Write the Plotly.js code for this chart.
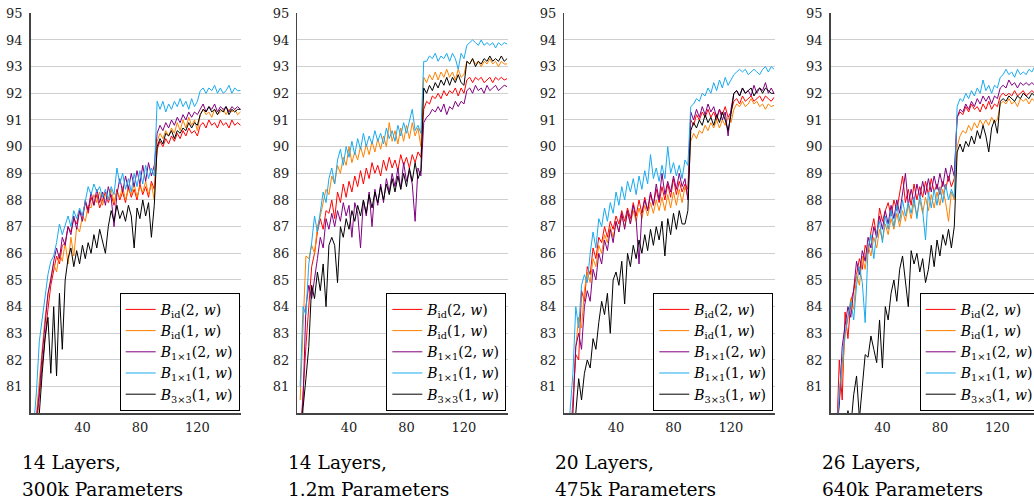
<!DOCTYPE html>
<html>
<head>
<meta charset="utf-8">
<script src="https://cdn.plot.ly/plotly-3.0.1.min.js"></script>
<style>
html,body{margin:0;padding:0;background:#fff;overflow:hidden;}
#chart{width:1060px;height:500px;}
</style>
</head>
<body>
<div id="chart"></div>
<script>
// ---------- data ----------
const epochs = [6,8,10,12,14,16,18,20,22,24, 26,28,30,32,34,36,38,40,42,44,
  46,48,50,52,54,56,58,60,62,64, 66,68,70,72,74,76,78,80,82,84, 86,88,90,
  92,94,96,98,100,102,104,106,108,110,112,114,116,118,120,
  122,124,126,128,130,132,134,136,138,140,142,144,146,148,150];

const seriesNames = [
  '<i>B</i><sub>id</sub>(2, <i>w</i>)',
  '<i>B</i><sub>id</sub>(1, <i>w</i>)',
  '<i>B</i><sub>1×1</sub>(2, <i>w</i>)',
  '<i>B</i><sub>1×1</sub>(1, <i>w</i>)',
  '<i>B</i><sub>3×3</sub>(1, <i>w</i>)'
];

const captionLine1 = ['14 Layers,', '14 Layers,', '20 Layers,', '26 Layers,'];
const captionLine2 = ['300k Parameters', '1.2m Parameters', '475k Parameters', '640k Parameters'];

const yTicks = [81,82,83,84,85,86,87,88,89,90,91,92,93,94,95];
const xTicks = [40,80,120];

// Panel 1: 14 layers, 300k
const p1_id2 = [78.5,79.5,80.6,81.8,82.9,83.9,84.8,85.3,85.9,85.6,
  86.3,86.4,87.0,86.8,87.3,87.1,87.6,87.4,87.9,87.5,
  88.1,87.8,88.2,87.7,88.0,88.3,87.9,88.2,87.8,88.4,
  88.0,88.3,87.9,88.5,88.1,88.4,88.0,88.6,88.2,88.5,
  88.1,88.7,88.4,
  89.9,90.2,90.0,90.3,90.1,90.4,90.2,90.5,90.3,90.6,90.4,90.7,90.5,90.6,90.4,
  90.8,90.9,90.7,91.0,90.8,90.9,90.7,91.0,90.8,90.9,90.7,91.0,90.8,90.9,90.8];
const p1_id1 = [78.8,80.0,81.2,82.5,83.6,84.4,85.1,85.6,85.3,86.0,
  85.7,86.4,85.6,86.6,85.9,87.0,86.8,87.4,87.2,87.8,
  87.7,88.2,87.9,88.3,87.8,88.2,88.0,88.4,87.9,88.3,
  88.1,88.5,88.0,88.4,88.2,88.6,88.1,88.5,88.3,88.7,
  88.2,88.6,88.0,
  90.2,90.5,90.3,90.6,90.4,90.7,90.5,90.9,90.6,91.0,90.7,91.1,90.8,91.0,90.6,
  91.2,91.4,91.2,91.3,91.1,91.4,91.2,91.3,91.4,91.2,91.4,91.3,91.4,91.2,91.3];
const p1_c2 = [78.8,79.8,80.8,82.2,83.4,84.5,85.0,85.7,86.2,85.8,
  86.6,86.3,87.0,86.7,87.4,86.9,87.6,87.2,88.0,87.6,
  88.3,87.8,88.4,87.9,88.3,87.8,88.5,88.1,87.0,88.2,
  88.8,88.3,88.9,88.4,89.0,88.5,89.1,88.6,89.3,88.7,
  89.4,88.9,89.3,
  90.5,90.8,90.6,90.9,90.7,91.0,90.8,91.1,90.9,91.2,91.0,91.3,91.1,91.3,91.2,
  91.4,91.6,91.3,91.5,91.4,91.6,91.3,91.5,91.4,91.5,91.3,91.5,91.4,91.5,91.4];
const p1_c1 = [79.5,80.8,82.7,83.6,84.3,85.2,85.7,85.9,86.4,87.1,
  86.7,87.1,87.4,87.0,87.6,87.3,87.7,87.4,88.0,88.5,
  88.2,88.6,88.3,88.5,88.1,88.4,88.0,88.5,88.2,89.2,
  88.6,89.0,88.4,88.8,88.3,89.0,88.5,89.1,88.6,89.3,
  88.8,89.2,88.9,
  91.7,91.4,91.7,91.3,91.6,91.4,91.7,91.5,91.8,91.5,91.7,91.4,91.8,91.5,91.7,
  92.1,92.2,92.0,92.2,92.1,92.3,92.0,92.2,92.0,92.1,92.3,92.0,92.2,92.1,92.1];
const p1_c3 = [78.0,79.0,80.0,81.5,82.8,83.6,81.5,84.0,81.4,84.5,
  82.4,85.0,85.8,86.2,85.5,86.1,85.6,86.3,85.8,86.4,
  86.0,86.7,86.2,86.9,86.5,86.0,87.0,87.6,87.2,87.8,
  87.3,87.6,87.2,87.8,87.4,86.2,87.7,87.3,88.0,87.4,
  87.9,86.6,87.8,
  90.0,90.3,90.1,90.5,90.4,90.6,90.3,90.6,90.5,90.7,90.6,90.9,90.7,90.9,90.8,
  91.2,91.4,91.3,91.5,91.3,91.4,91.2,91.4,91.3,91.5,91.2,91.4,91.3,91.4,91.4];

// Panel 2: 14 layers, 1.2m
const p2_id2 = [79.0,81.0,82.5,84.0,85.5,86.0,86.8,87.3,86.9,87.6,
  87.5,88.0,87.3,88.3,87.9,88.6,88.1,88.7,88.3,88.9,
  88.5,89.1,88.6,89.2,88.8,89.4,89.0,89.3,88.9,89.5,
  89.1,89.6,89.2,89.5,89.1,89.7,89.3,89.6,89.2,89.7,
  89.4,89.8,89.6,
  91.4,91.7,91.6,91.9,91.8,92.0,91.8,92.1,91.9,92.1,92.0,92.2,91.9,92.2,92.0,
  92.5,92.6,92.4,92.6,92.5,92.6,92.4,92.5,92.6,92.4,92.6,92.5,92.6,92.5,92.55];
const p2_id1 = [80.5,83.0,85.9,85.8,86.3,86.0,87.0,87.4,87.9,88.4,
  88.2,88.9,88.6,89.3,89.0,89.6,89.3,90.0,89.4,89.8,
  89.5,90.0,89.6,90.1,89.7,90.2,89.8,90.3,89.9,90.4,
  90.0,90.9,90.2,90.6,90.1,90.7,90.2,90.8,90.3,90.9,
  90.4,90.7,90.0,
  92.6,92.4,92.7,92.5,92.8,92.5,92.8,92.6,92.9,92.6,92.8,92.5,92.9,92.6,92.7,
  93.2,93.1,93.3,93.1,93.2,93.0,93.2,93.1,93.3,93.1,93.2,93.0,93.2,93.1,93.1];
const p2_c2 = [79.0,80.5,84.0,84.8,84.3,85.0,85.8,86.6,86.2,87.3,
  86.9,87.5,87.0,87.6,87.2,87.9,87.4,87.8,86.6,87.9,
  87.5,86.2,88.0,87.4,88.3,87.0,88.4,87.8,88.6,87.9,
  88.8,88.3,89.0,88.5,89.2,88.4,89.4,88.7,89.1,88.6,
  87.2,89.2,88.9,
  90.9,91.1,91.2,91.4,91.3,91.5,91.3,91.6,91.2,91.5,91.4,91.7,91.5,91.7,91.6,
  92.1,92.2,92.0,92.3,92.1,92.2,92.0,92.3,92.1,92.2,92.3,92.1,92.2,92.3,92.25];
const p2_c1 = [81.0,84.0,83.7,85.6,86.4,87.4,86.8,87.6,88.3,87.9,
  88.8,89.2,88.6,89.5,89.9,89.3,90.0,89.6,90.2,89.7,
  90.3,89.9,90.5,90.0,90.4,90.1,90.6,90.2,90.5,90.1,
  90.7,90.3,90.6,90.2,90.8,90.4,90.9,90.5,91.0,91.4,
  90.6,90.8,90.5,
  93.2,93.2,93.4,93.3,93.5,93.2,93.4,93.3,93.5,93.2,93.5,93.3,92.9,93.5,93.3,
  93.8,93.9,94.0,93.9,93.8,94.0,93.8,93.9,93.8,93.9,93.7,93.9,93.8,93.9,93.85];
const p2_c3 = [78.5,80.2,81.3,82.5,84.8,84.3,85.3,84.6,85.6,84.0,
  86.3,86.6,86.3,84.9,87.0,86.6,87.3,86.9,87.6,87.2,
  87.8,87.4,88.0,87.5,88.2,87.7,88.3,87.9,88.5,88.0,
  88.6,88.2,88.8,88.3,88.9,88.4,89.0,88.5,89.2,88.7,
  89.4,88.8,89.1,
  92.2,92.0,92.3,92.1,92.4,92.2,92.5,92.3,92.6,92.3,92.6,92.4,92.7,92.4,92.3,
  93.2,93.1,93.3,93.0,93.2,93.1,93.3,93.2,93.4,93.2,93.3,93.2,93.4,93.2,93.3];

// Panel 3: 20 layers, 475k
const p3_id2 = [77.5,78.8,80.5,82.2,82.0,84.6,84.2,85.5,85.2,86.2,
  85.8,86.6,86.4,87.0,86.6,87.2,86.9,87.4,87.1,87.6,
  87.2,87.7,87.3,87.9,87.4,88.0,87.5,88.1,87.6,88.2,
  87.8,88.4,87.9,88.5,88.0,88.6,88.1,88.8,88.2,88.7,
  88.3,88.6,88.4,
  91.0,90.8,91.2,91.0,91.3,91.1,91.4,91.1,91.3,91.0,91.4,91.2,91.5,91.1,91.3,
  91.7,91.8,91.6,91.9,91.7,91.8,91.9,91.7,91.8,91.9,91.7,91.9,91.8,91.7,91.85];
const p3_id1 = [77.0,78.5,80.2,82.5,83.6,83.2,84.6,85.3,84.9,85.8,
  85.5,86.3,86.0,86.7,86.4,87.0,86.6,87.2,86.8,87.4,
  87.0,87.5,87.1,87.6,87.2,87.7,87.3,87.8,87.4,87.9,
  87.5,88.0,87.6,88.1,87.6,88.2,87.7,88.3,87.8,88.4,
  87.9,88.5,88.1,
  90.2,90.5,90.3,90.6,90.5,90.8,90.6,90.9,90.7,91.0,90.7,91.0,90.8,91.1,90.9,
  91.4,91.6,91.5,91.7,91.5,91.6,91.8,91.6,91.7,91.5,91.6,91.4,91.6,91.5,91.55];
const p3_c2 = [76.5,78.0,80.0,82.5,83.0,82.4,84.0,84.6,84.2,85.4,
  85.0,86.0,85.6,86.5,86.1,86.9,86.4,87.2,86.8,87.5,
  86.9,87.6,87.1,87.8,87.3,85.6,87.5,88.0,87.6,88.3,
  87.8,88.6,88.0,89.0,88.2,88.7,88.3,88.9,88.4,89.0,
  88.5,88.8,88.0,
  91.3,91.0,91.4,91.1,91.5,91.2,91.6,91.3,91.5,91.1,91.4,91.0,91.3,90.4,91.4,
  92.0,92.1,91.9,92.2,92.0,92.1,91.9,92.3,92.0,92.2,92.1,92.4,92.0,92.2,92.0];
const p3_c1 = [78.0,80.1,81.5,84.0,83.2,84.8,85.2,84.9,86.0,86.8,
  86.2,87.3,87.0,87.7,87.2,87.9,87.5,88.3,87.8,88.5,
  88.0,88.7,88.3,88.8,88.2,88.9,88.4,89.1,88.6,89.7,
  88.8,89.2,88.7,89.3,88.8,90.0,89.0,89.4,88.9,89.3,
  88.8,89.5,89.3,
  91.5,91.6,91.8,91.7,92.0,91.9,92.2,92.0,92.4,92.1,92.5,92.2,92.6,92.3,92.5,
  92.7,92.8,92.9,92.8,92.9,92.7,92.8,92.9,92.8,92.7,92.9,93.0,92.8,93.0,92.9];
const p3_c3 = [76.0,77.5,79.0,80.0,81.3,80.5,81.5,82.0,81.7,82.8,
  82.4,83.4,84.2,83.7,84.5,83.0,85.0,85.3,84.8,85.7,
  84.1,86.0,85.5,86.3,85.8,86.5,86.0,86.7,86.1,86.9,
  86.3,87.0,86.5,87.2,85.9,87.3,86.7,87.5,86.9,87.6,
  87.1,87.1,87.6,
  90.6,90.9,90.7,91.0,90.8,91.2,90.9,91.1,90.8,91.2,90.9,91.3,91.0,90.6,91.2,
  92.0,92.1,91.9,92.2,92.0,92.1,92.2,91.9,92.1,92.2,92.0,92.2,92.1,92.0,92.0];

// Panel 4: 26 layers, 640k
const p4_id2 = [77.0,79.0,82.0,80.5,83.8,82.8,84.2,84.6,85.2,85.8,
  85.4,86.3,86.0,86.8,87.3,86.6,87.7,87.2,87.6,87.9,
  87.4,88.0,87.6,88.2,88.9,87.9,88.4,87.8,88.6,88.0,
  88.5,88.1,88.7,88.2,88.8,88.3,88.6,88.2,88.7,88.4,
  88.9,88.5,88.8,
  91.1,91.3,91.2,91.5,91.3,91.6,91.4,91.5,91.3,91.6,91.4,91.7,91.4,91.6,91.5,
  91.9,92.0,91.9,92.0,91.9,92.1,91.9,92.0,92.1,91.9,92.0,92.1,92.0,92.1,92.1];
const p4_id1 = [76.5,78.5,80.5,81.5,82.9,83.6,84.3,83.9,85.2,84.8,
  85.9,85.4,86.3,85.9,86.6,86.2,86.9,86.5,87.1,86.7,
  87.3,86.9,87.5,87.0,87.6,87.2,87.8,87.3,87.9,87.4,
  88.0,87.5,88.1,87.6,88.2,87.7,88.3,87.8,88.4,87.9,
  87.2,88.3,88.0,
  90.0,90.4,90.6,90.5,90.8,90.6,90.9,90.7,91.0,90.8,91.0,90.8,91.1,90.9,91.0,
  91.6,91.7,91.6,91.8,91.6,91.7,91.5,91.8,91.7,91.8,91.6,91.8,91.7,91.9,91.85];
const p4_c2 = [77.5,79.5,80.3,82.5,83.3,84.0,83.6,84.8,85.7,85.2,
  86.1,85.7,86.6,86.2,87.0,86.6,87.4,86.9,87.6,87.1,
  87.8,87.3,88.0,87.5,88.3,89.0,87.8,88.4,87.9,88.6,
  88.1,88.7,88.2,88.8,88.3,88.9,88.4,89.0,88.5,89.2,
  88.7,89.3,88.9,
  91.1,91.4,91.3,91.6,91.4,91.7,91.5,91.8,91.6,91.9,91.7,91.9,91.6,91.9,91.8,
  92.2,92.3,92.2,92.5,92.3,92.4,92.2,92.4,92.3,92.4,92.3,92.4,92.3,92.4,92.35];
const p4_c1 = [77.0,79.2,80.8,82.0,83.0,83.6,84.2,83.5,84.8,85.5,
  84.9,83.4,86.2,86.7,85.8,86.8,87.2,86.4,87.4,86.9,
  87.6,87.0,87.8,87.2,88.0,87.4,87.9,87.5,88.1,87.3,
  88.2,87.6,86.5,88.3,87.7,88.4,87.8,88.5,87.9,88.6,
  88.0,88.4,88.1,
  91.5,91.8,91.7,92.0,91.8,92.1,91.9,92.2,92.0,92.5,92.1,92.3,92.0,92.3,92.2,
  92.6,92.7,92.9,92.7,92.8,92.6,92.9,92.7,92.8,92.7,92.9,92.8,93.0,92.8,92.8];
const p4_c3 = [75.0,76.5,77.5,78.5,79.3,80.1,79.5,80.7,81.4,79.8,
  81.0,82.2,82.1,82.9,82.4,81.9,83.5,81.7,84.0,83.5,
  84.5,85.0,84.2,85.4,85.9,85.0,84.0,86.1,85.6,86.0,
  85.3,85.8,84.9,85.4,86.3,85.5,86.5,85.9,86.7,86.3,
  86.9,86.2,87.0,
  89.8,90.1,89.8,90.2,90.0,90.4,90.1,90.6,90.3,90.8,90.4,89.8,90.7,91.0,90.5,
  91.7,91.8,91.7,91.9,91.8,91.7,91.9,91.8,92.0,91.9,91.8,92.0,91.9,92.1,92.0];

const panels = [
  [p1_id2, p1_id1, p1_c2, p1_c1, p1_c3],
  [p2_id2, p2_id1, p2_c2, p2_c1, p2_c3],
  [p3_id2, p3_id1, p3_c2, p3_c1, p3_c3],
  [p4_id2, p4_id1, p4_c2, p4_c1, p4_c3]
];

// ---------- style ----------
const W = 1060, H = 500;
const colors = ['#ff0000', '#ff8000', '#800080', '#19aaef', '#000000'];
const FONT = 'DejaVu Serif';
const panelLeft = [30.7, 297.3, 564.3, 830.7];
const panelWidth = 210.5;
const plotTop = 13.3, plotBottom = 413.3;

const traces = [];
const layout = {
  width: W, height: H,
  margin: {l: 0, r: 0, t: 0, b: 0},
  paper_bgcolor: '#fff', plot_bgcolor: '#fff',
  showlegend: true,
  annotations: []
};

panels.forEach((series, p) => {
  const k = p + 1;
  const xa = 'x' + (k === 1 ? '' : k);
  const ya = 'y' + (k === 1 ? '' : k);
  const lg = 'legend' + (k === 1 ? '' : k);
  series.forEach((vals, s) => {
    traces.push({
      type: 'scatter', mode: 'lines',
      x: epochs, y: vals,
      xaxis: xa, yaxis: ya, legend: lg,
      name: seriesNames[s],
      line: {color: colors[s], width: 1},
      hoverinfo: 'skip'
    });
  });
  const l = panelLeft[p], r = l + panelWidth;
  layout['xaxis' + (k === 1 ? '' : k)] = {
    domain: [l / W, r / W], range: [4, 150.5], anchor: ya,
    tickmode: 'array', tickvals: xTicks, ticks: '',
    showgrid: false, zeroline: false,
    showline: true, linecolor: '#444', linewidth: 1.5,
    tickfont: {family: FONT, size: 13, color: '#222'},
    ticklabelstandoff: 2,
    fixedrange: true
  };
  layout['yaxis' + (k === 1 ? '' : k)] = {
    domain: [1 - plotBottom / H, 1 - plotTop / H], range: [80, 95], anchor: xa,
    tickmode: 'array', tickvals: yTicks, ticks: '',
    showgrid: true, gridcolor: '#cfcfcf', gridwidth: 1,
    zeroline: false, showline: true, linecolor: '#444', linewidth: 1.5,
    tickfont: {family: FONT, size: 13, color: '#222'},
    ticklabelstandoff: 4,
    fixedrange: true
  };
  layout[lg] = {
    x: (r - 1.5) / W, xanchor: 'right',
    y: 1 - (plotBottom - 2.5) / H, yanchor: 'bottom',
    bgcolor: '#fff', bordercolor: '#000', borderwidth: 1,
    font: {family: FONT, size: 14, color: '#000'},
    tracegroupgap: 0, itemwidth: 30
  };
  layout.annotations.push({
    xref: 'paper', yref: 'paper',
    x: (l - 11) / W, xanchor: 'left',
    y: 1 - 462 / H, yanchor: 'middle',
    text: captionLine1[p], showarrow: false,
    font: {family: FONT, size: 18.6, color: '#000'}
  });
  layout.annotations.push({
    xref: 'paper', yref: 'paper',
    x: (l - 11) / W, xanchor: 'left',
    y: 1 - 489 / H, yanchor: 'middle',
    text: captionLine2[p], showarrow: false,
    font: {family: FONT, size: 18.6, color: '#000'}
  });
});

Plotly.newPlot('chart', traces, layout, {displayModeBar: false, staticPlot: true});
</script>
</body>
</html>
